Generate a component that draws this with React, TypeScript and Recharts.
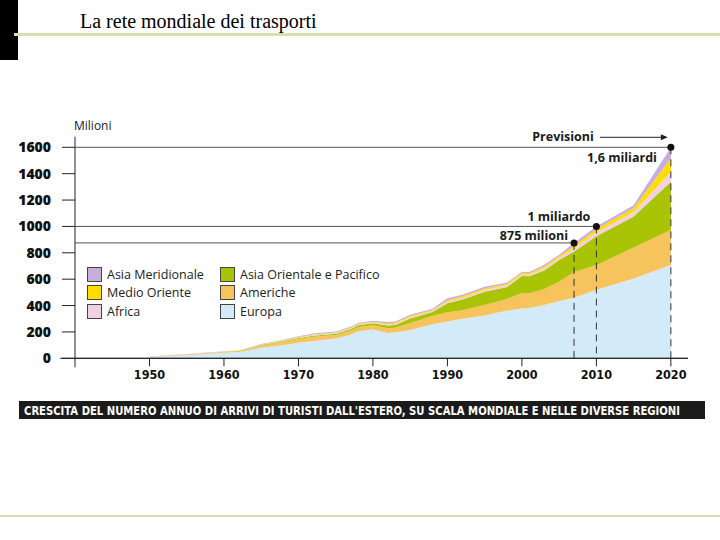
import React from 'react'
import {
  AreaChart,
  Area,
  XAxis,
  YAxis,
  ReferenceLine,
  ReferenceDot,
} from 'recharts'

const years = [1950, 1955, 1960, 1962, 1963, 1965, 1968, 1970, 1972, 1975, 1977, 1978, 1980, 1982, 1983, 1985, 1988, 1990, 1992, 1995, 1998, 2000, 2001, 2003, 2005, 2007, 2010, 2015, 2020]

// milioni di arrivi per regione (spessore di ogni fascia)
const europa = [12, 24, 42, 48, 58, 80, 100, 118, 132, 150, 178, 205, 218, 192, 195, 215, 258, 280, 300, 325, 362, 378, 382, 405, 435, 460, 520, 605, 707]
const americhe = [2, 4, 6, 7, 10, 16, 25, 29, 31, 26, 30, 30, 32, 36, 37, 53, 62, 70, 65, 79, 88, 117, 110, 120, 145, 195, 185, 235, 266]
const asiaOrientale = [0.5, 1, 2, 2, 3, 4, 6, 7, 8, 10, 12, 15, 16, 20, 21, 34, 32, 68, 80, 101, 90, 130, 130, 140, 165, 155, 220, 235, 366]
const africa = [0.5, 1, 1, 1, 1, 2, 3, 4, 5, 5, 6, 6, 6, 8, 9, 10, 8, 12, 13, 13, 15, 13, 14, 18, 17, 25, 30, 35, 76]
const medioOriente = [0.5, 1, 1, 1, 2, 2, 3, 4, 5, 5, 6, 6, 6, 8, 8, 8, 7, 10, 12, 12, 10, 10, 10, 14, 13, 17, 25, 30, 101]
const asiaMeridionale = [0.5, 1, 1, 1, 2, 4, 3, 6, 7, 7, 8, 6, 6, 11, 10, 10, 8, 15, 12, 13, 10, 9, 9, 13, 10, 23, 20, 20, 84]

const yTicks = [0, 200, 400, 600, 800, 1000, 1200, 1400, 1600]
const xTicks = [1950, 1960, 1970, 1980, 1990, 2000, 2010, 2020]

const series = [
  { key: 'europa', name: 'Europa', values: europa, color: '#d3ebf8' },
  { key: 'americhe', name: 'Americhe', values: americhe, color: '#f7c35c' },
  { key: 'asiaOrientale', name: 'Asia Orientale e Pacifico', values: asiaOrientale, color: '#a9c404' },
  { key: 'africa', name: 'Africa', values: africa, color: '#f1d0e2' },
  { key: 'medioOriente', name: 'Medio Oriente', values: medioOriente, color: '#ffdd00' },
  { key: 'asiaMeridionale', name: 'Asia Meridionale', values: asiaMeridionale, color: '#c8aedb' },
]

const legendCols = [
  ['asiaMeridionale', 'medioOriente', 'africa'],
  ['asiaOrientale', 'americhe', 'europa'],
]

const data = years.map((year, i) => {
  const row: Record<string, number> = { year }
  series.forEach(s => { row[s.key] = s.values[i] })
  return row
})

const uiFont = '"Open Sans", "Noto Sans", sans-serif'
const narrowFont = '"Liberation Sans Narrow", "DejaVu Sans Condensed", sans-serif'

function Marker({ cx, cy, kind }: any) {
  if (cx == null || cy == null) return null
  const bold = { fontFamily: uiFont, fontWeight: 700, fontSize: 12.5, fill: '#1a1a1a' }
  return (
    <g>
      <circle cx={cx} cy={cy} r={3.5} fill="#111" />
      {kind === 'top' && (
        <>
          <text x={cx - 14} y={cy + 15} textAnchor="end" {...bold}>1,6 miliardi</text>
          <text x={cx - 77} y={cy - 6} textAnchor="end" {...bold}>Previsioni</text>
          <line x1={cx - 71} y1={cy - 10} x2={cx - 9} y2={cy - 10} stroke="#222" strokeWidth={1} />
          <path d={`M${cx - 3},${cy - 10} L${cx - 10},${cy - 13} L${cx - 10},${cy - 7} Z`} fill="#222" />
        </>
      )}
      {kind === 'mid' && (
        <text x={cx - 6} y={cy - 5} textAnchor="end" {...bold}>1 miliardo</text>
      )}
      {kind === 'low' && (
        <text x={cx - 6} y={cy - 3} textAnchor="end" {...bold}>875 milioni</text>
      )}
    </g>
  )
}

function UnitLabel({ viewBox }: any) {
  if (!viewBox) return null
  return (
    <text x={viewBox.x + viewBox.width - 1} y={viewBox.y - 17} fontFamily={uiFont} fontSize={12} fill="#222">
      Milioni
    </text>
  )
}

export default function App() {
  const byKey = Object.fromEntries(series.map(s => [s.key, s]))
  return (
    <div style={{ position: 'absolute', left: 0, top: 0, width: 720, height: 540, background: '#fff', overflow: 'hidden' }}>
      {/* slide decoration */}
      <div style={{ position: 'absolute', left: 0, top: 0, width: 18, height: 60, background: '#000' }} />
      <div style={{ position: 'absolute', left: 14, top: 33, width: 706, height: 3, background: '#dcdcb3' }} />
      <div style={{ position: 'absolute', left: 80, top: 8, fontFamily: '"Liberation Serif", "DejaVu Serif", serif', fontSize: 20, color: '#000', lineHeight: '26px' }}>
        La rete mondiale dei trasporti
      </div>
      <div style={{ position: 'absolute', left: 0, top: 515, width: 720, height: 2, background: '#d9dbb6' }} />

      <div style={{ position: 'absolute', left: 0, top: 0 }}>
        <AreaChart width={720} height={540} data={data} margin={{ top: 147.3, right: 32, bottom: 151.7, left: 0 }}>
          <XAxis
            dataKey="year"
            type="number"
            domain={[1940, 2022.3]}
            ticks={xTicks}
            tickSize={8}
            tickMargin={4}
            axisLine={{ stroke: '#222' }}
            tickLine={{ stroke: '#222' }}
            tick={{ fontFamily: narrowFont, fontWeight: 700, fontSize: 12.5, fill: '#111' }}
            height={30}
          />
          <YAxis
            type="number"
            domain={[0, 1600]}
            ticks={yTicks}
            width={75}
            tickSize={13}
            tickMargin={11}
            axisLine={false}
            tickLine={{ stroke: '#222' }}
            tick={{ fontFamily: uiFont, fontWeight: 800, fontSize: 14, fill: '#111' }}
            label={<UnitLabel />}
          />
          {series.map(s => (
            <Area
              key={s.key}
              type="linear"
              dataKey={s.key}
              name={s.name}
              stackId="1"
              stroke="none"
              fill={s.color}
              fillOpacity={1}
              isAnimationActive={false}
            />
          ))}
          <ReferenceLine segment={[{ x: 1940, y: 1680 }, { x: 1940, y: -68 }]} stroke="#222" ifOverflow="visible" />
          <ReferenceLine segment={[{ x: 1938, y: 0 }, { x: 2022.3, y: 0 }]} stroke="#222" ifOverflow="visible" />
          <ReferenceLine segment={[{ x: 1940, y: 1600 }, { x: 2020, y: 1600 }]} stroke="#555" />
          <ReferenceLine segment={[{ x: 1940, y: 1000 }, { x: 2010, y: 1000 }]} stroke="#555" />
          <ReferenceLine segment={[{ x: 1940, y: 875 }, { x: 2007, y: 875 }]} stroke="#555" />
          <ReferenceLine segment={[{ x: 2007, y: 875 }, { x: 2007, y: 0 }]} stroke="#333" strokeDasharray="7 5" />
          <ReferenceLine segment={[{ x: 2010, y: 1000 }, { x: 2010, y: 0 }]} stroke="#333" strokeDasharray="7 5" />
          <ReferenceLine segment={[{ x: 2020, y: 1600 }, { x: 2020, y: 0 }]} stroke="#333" strokeDasharray="7 5" />
          <ReferenceDot x={2007} y={875} r={3.5} shape={(p: any) => <Marker {...p} kind="low" />} />
          <ReferenceDot x={2010} y={1000} r={3.5} shape={(p: any) => <Marker {...p} kind="mid" />} />
          <ReferenceDot x={2020} y={1600} r={3.5} ifOverflow="visible" shape={(p: any) => <Marker {...p} kind="top" />} />
        </AreaChart>
      </div>

      {/* legenda */}
      {legendCols.map((col, ci) => (
        <div key={ci} style={{ position: 'absolute', left: ci === 0 ? 87 : 220, top: 265 }}>
          {col.map(k => (
            <div key={k} style={{ display: 'flex', alignItems: 'center', height: 18.5 }}>
              <div style={{ width: 13, height: 13, background: byKey[k].color, border: '1px solid #444', marginRight: 5 }} />
              <span style={{ fontFamily: uiFont, fontSize: 12.5, color: '#222', whiteSpace: 'nowrap' }}>{byKey[k].name}</span>
            </div>
          ))}
        </div>
      ))}

      {/* didascalia */}
      <svg style={{ position: 'absolute', left: 19, top: 401 }} width={686} height={18}>
        <rect x={0} y={0} width={686} height={18} fill="#1b1b1b" />
        <text
          x={5}
          y={13.5}
          textLength={656}
          lengthAdjust="spacingAndGlyphs"
          fontFamily={'"Liberation Sans Narrow", "DejaVu Sans Condensed", sans-serif'}
          fontWeight={700}
          fontSize={11.5}
          fill="#fff"
        >
          CRESCITA DEL NUMERO ANNUO DI ARRIVI DI TURISTI DALL'ESTERO, SU SCALA MONDIALE E NELLE DIVERSE REGIONI
        </text>
      </svg>
    </div>
  )
}
